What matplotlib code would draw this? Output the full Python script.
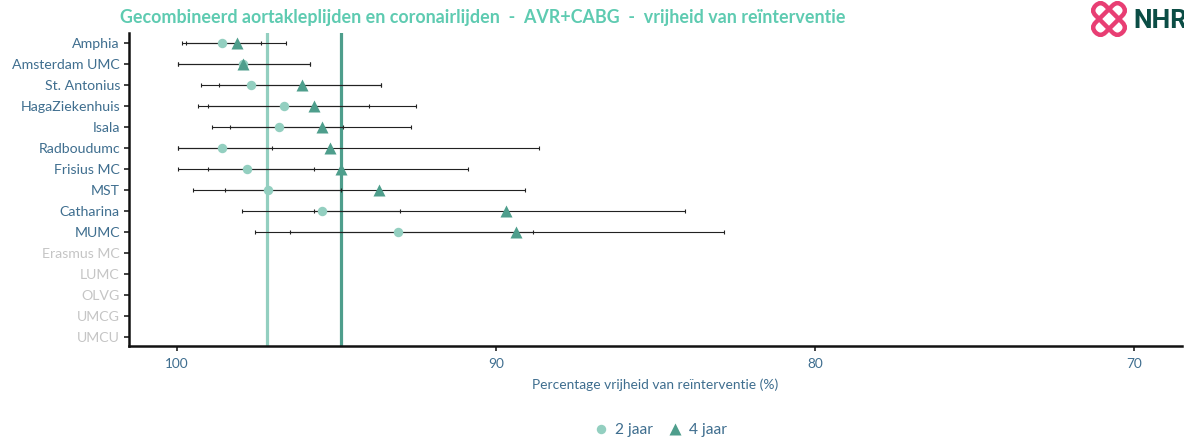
import numpy as np
import matplotlib
matplotlib.use("Agg")
import matplotlib.pyplot as plt
from matplotlib.patches import FancyBboxPatch
from matplotlib.lines import Line2D
import matplotlib.transforms as mtransforms

# ---------------- data ----------------
hospitals = ["Amphia", "Amsterdam UMC", "St. Antonius", "HagaZiekenhuis", "Isala",
             "Radboudumc", "Frisius MC", "MST", "Catharina", "MUMC",
             "Erasmus MC", "LUMC", "OLVG", "UMCG", "UMCU"]
nan = np.nan
est_2j = [98.59, 97.93, 97.67, 96.64, 96.80, 98.59, 97.79, 97.14, 95.44, 93.07,
          nan, nan, nan, nan, nan]
lo_2j = [96.58, 95.84, 93.60, 93.99, 94.78, 97.01, 95.71, 94.85, 93.00, 88.83,
         nan, nan, nan, nan, nan]
hi_2j = [99.71, 99.97, 98.69, 99.01, 98.33, 99.97, 99.02, 98.49, 97.96, 97.56,
         nan, nan, nan, nan, nan]
est_4j = [98.13, 97.92, 96.09, 95.69, 95.44, 95.19, 94.85, 93.66, 89.67, 89.36,
          nan, nan, nan, nan, nan]
lo_4j = [97.36, 95.84, 93.60, 92.51, 92.66, 88.64, 90.88, 89.10, 84.07, 82.85,
         nan, nan, nan, nan, nan]
hi_4j = [99.85, 99.97, 99.25, 99.35, 98.89, 99.97, 99.97, 99.48, 95.71, 96.47,
         nan, nan, nan, nan, nan]
gem_2j = 97.18
gem_4j = 94.85
xticks = [100, 90, 80, 70]
series_labels = ["2 jaar", "4 jaar"]

title = "Gecombineerd aortakleplijden en coronairlijden  -  AVR+CABG  -  vrijheid van reïnterventie"
xlabel = "Percentage vrijheid van reïnterventie (%)"

# ---------------- style ----------------
C_LIGHT = "#93CFC0"
C_DARK = "#4E9E8C"
C_TITLE = "#5ECBB1"
C_LABEL = "#3F6E8F"
C_GREY = "#C5C5C5"
FONT = "Lato"
plt.rcParams["font.family"] = [FONT, "DejaVu Sans"]

W, H = 1184, 444
fig = plt.figure(figsize=(W / 100, H / 100), dpi=100)
ax = fig.add_axes([129 / W, 1 - 346 / H, (1182 - 129) / W, (346 - 33) / H])

n = len(hospitals)
y = np.arange(n)

e2 = np.array(est_2j); l2 = np.array(lo_2j); h2 = np.array(hi_2j)
e4 = np.array(est_4j); l4 = np.array(lo_4j); h4 = np.array(hi_4j)

ax.axvline(gem_2j, color=C_LIGHT, lw=2.3, zorder=1)
ax.axvline(gem_4j, color=C_DARK, lw=2.3, zorder=1)

for e, l, h in [(e4, l4, h4), (e2, l2, h2)]:
    m = ~np.isnan(e)
    ax.errorbar(e[m], y[m], xerr=[e[m] - l[m], h[m] - e[m]], fmt="none",
                ecolor="#222222", elinewidth=0.8, capsize=1.6, capthick=0.8, zorder=2)

ax.plot(e2, y, "o", color=C_LIGHT, ms=6.8, mec="none", zorder=3)
ax.plot(e4, y, "^", color=C_DARK, ms=8.2, mec="none", zorder=4)

ax.set_xlim(101.5, 68.5)
ax.set_ylim(n - 1 + 0.42, -0.5)
ax.set_xticks(xticks)
ax.set_xticklabels([str(t) for t in xticks], color=C_LABEL, fontsize=9.8)
ax.set_yticks(y)
ax.set_yticklabels(hospitals, fontsize=10.2)
for lab, e in zip(ax.get_yticklabels(), e2):
    lab.set_color(C_GREY if np.isnan(e) else C_LABEL)

for s in ["top", "right"]:
    ax.spines[s].set_visible(False)
for s in ["left", "bottom"]:
    ax.spines[s].set_linewidth(1.8)
    ax.spines[s].set_color("#111111")
ax.tick_params(axis="both", length=3.5, width=1.3, color="#333333", pad=3)
ax.tick_params(axis="x", pad=5)

ax.set_xlabel(xlabel, color=C_LABEL, fontsize=9.9, labelpad=6)

fig.text(120 / W, 1 - 17 / H, title, color=C_TITLE, fontsize=12.9,
         fontweight="bold", ha="left", va="center")

# legend
handles = [Line2D([], [], marker="o", ls="none", color=C_LIGHT, ms=6.8, mec="none"),
           Line2D([], [], marker="^", ls="none", color=C_DARK, ms=8.2, mec="none")]
leg = fig.legend(handles, series_labels, loc="center", bbox_to_anchor=(661 / W, 1 - 430 / H),
                 ncol=2, frameon=False, fontsize=11.2, handlelength=0.8, handletextpad=0.5,
                 columnspacing=1.0)
for t in leg.get_texts():
    t.set_color(C_LABEL)

# logo (NHR)
pink = "#E83E73"
for ang in (45, -45):
    p = FancyBboxPatch((-19, -7), 38, 14, boxstyle="round,pad=0,rounding_size=7",
                       fill=False, ec=pink, lw=3.2,
                       transform=mtransforms.Affine2D().rotate_deg(ang).translate(1109, H - 19),
                       figure=fig)
    fig.patches.append(p)
fig.text(1133 / W, 1 - 21 / H, "NHR", color="#0B4D45", fontsize=19, fontweight="bold",
         ha="left", va="center", family="Roboto")

fig.savefig("out.png", dpi=100)
